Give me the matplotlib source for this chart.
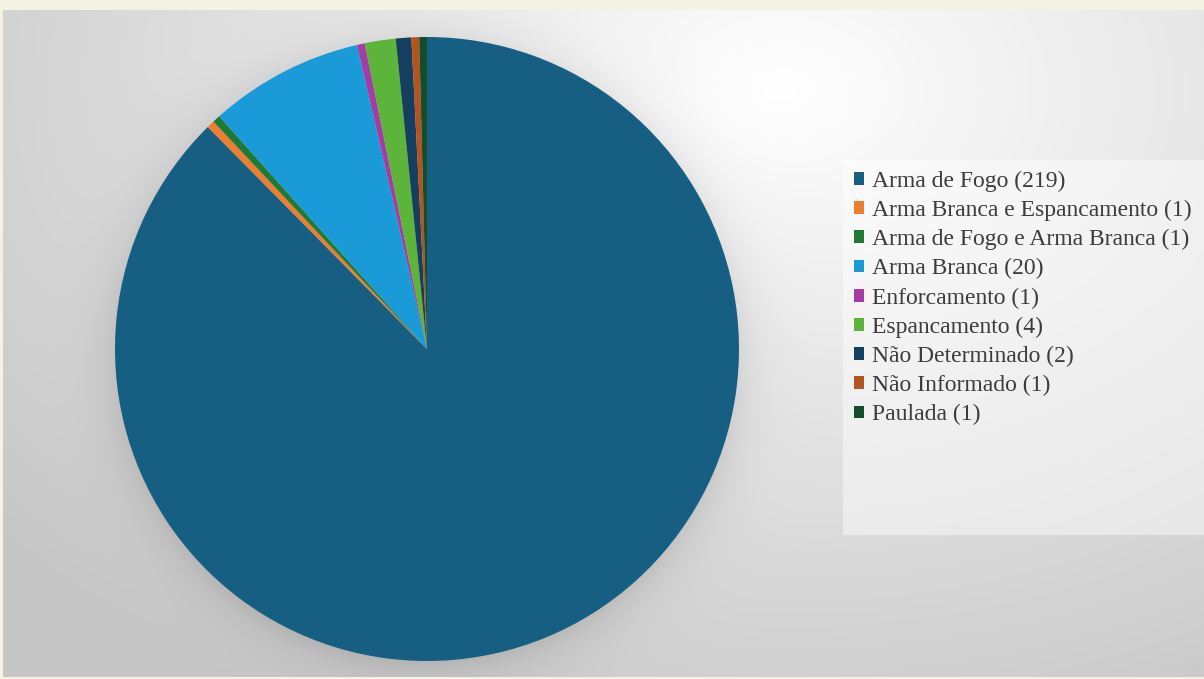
import numpy as np
import matplotlib
matplotlib.use("Agg")
import matplotlib.pyplot as plt
from matplotlib.patches import Patch, Rectangle

# categories and counts
labels = ["Arma de Fogo", "Arma Branca e Espancamento", "Arma de Fogo e Arma Branca",
          "Arma Branca", "Enforcamento", "Espancamento", "Não Determinado",
          "Não Informado", "Paulada"]
counts = [219, 1, 1, 20, 1, 4, 2, 1, 1]
colors = ["#165f83", "#ed7d31", "#1f7a35", "#1a9bd7", "#a43ca6",
          "#5cb43a", "#153f5e", "#b4531f", "#144d2b"]

W, H = 1204, 679
fig = plt.figure(figsize=(W / 100, H / 100), dpi=100)
fig.patch.set_facecolor("#f6f2e2")

# gray background with a light spot and a soft shadow around the pie
x0, x1, y0, y1 = 3, W, 10, 677
bg = fig.add_axes([x0 / W, 1 - y1 / H, (x1 - x0) / W, (y1 - y0) / H])
yy, xx = np.mgrid[y0:y1, x0:x1].astype(float)
d = np.sqrt(((xx - 780) / 1000) ** 2 + ((yy - 90) / 700) ** 2)
shade = 1.0 - 0.22 * np.clip(d, 0, 1)
cx, cy, R = 427, 349, 312
r = np.sqrt((xx - cx) ** 2 + (yy - cy - 5) ** 2)
shade -= 0.10 * np.exp(-np.clip(r - R + 6, 0, None) / 22)
img = np.dstack([shade, shade, shade])
bg.imshow(np.clip(img, 0, 1), aspect="auto", interpolation="bilinear")
bg.set_axis_off()

# pie
ax = fig.add_axes([(cx - R) / W, 1 - (cy + R) / H, 2 * R / W, 2 * R / H])
ax.pie(counts, colors=colors, startangle=90, counterclock=False,
       wedgeprops=dict(linewidth=0), radius=1)
ax.set_xlim(-1, 1)
ax.set_ylim(-1, 1)
ax.set_aspect("equal")
ax.set_axis_off()

# legend panel, stretched to the right edge
lx, ly, lw, lh = 843, 160, W - 843, 375
fig.patches.append(Rectangle((lx / W, 1 - (ly + lh) / H), lw / W, lh / H,
                             transform=fig.transFigure, facecolor="white",
                             alpha=0.45, edgecolor="none", zorder=1))
handles = [Patch(facecolor=c, edgecolor="none") for c in colors]
legend_labels = [f"{l} ({n})" for l, n in zip(labels, counts)]
leg = fig.legend(handles, legend_labels, loc="upper left",
                 bbox_to_anchor=(lx / W, 1 - ly / H),
                 prop=dict(family="Liberation Serif", size=17),
                 frameon=False,
                 handlelength=0.46, handleheight=0.46, handletextpad=0.3,
                 labelspacing=0.34, borderpad=0.45, borderaxespad=0)
leg.set_zorder(2)
for t in leg.get_texts():
    t.set_color("#3c3c3c")

fig.savefig("out.png", dpi=100)
